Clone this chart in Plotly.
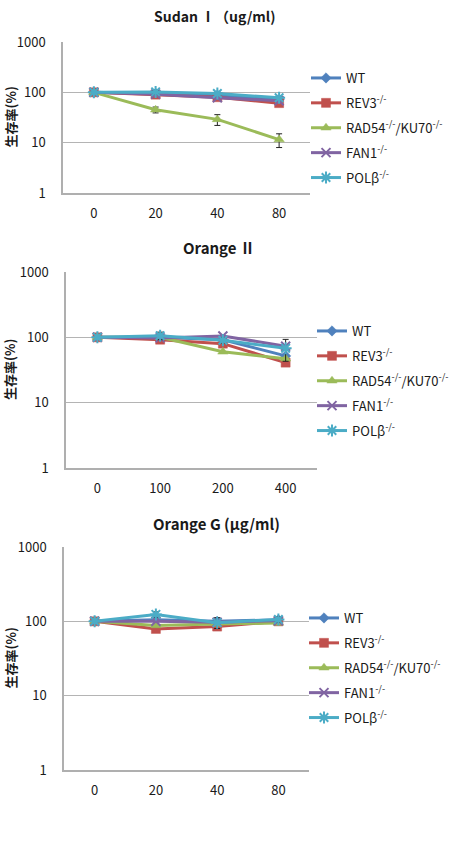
import plotly.graph_objects as go

# ---------------- data ----------------
series_names = ["WT", "REV3<sup>-/-</sup>", "RAD54<sup>-/-</sup>/KU70<sup>-/-</sup>",
                "FAN1<sup>-/-</sup>", "POLβ<sup>-/-</sup>"]

sudan_x = ["0", "20", "40", "80"]
sudan_wt = [100, 95, 88, 72]
sudan_rev3 = [100, 90, 80, 61]
sudan_rad54 = [100, 45, 29, 11.5]
sudan_fan1 = [100, 92, 78, 68]
sudan_polb = [100, 102, 95, 78]
sudan_err_rad54 = [0, 6, 7, 3.5]
sudan_err_polb = [0, 8, 7, 6]

orange2_x = ["0", "100", "200", "400"]
orange2_wt = [100, 100, 92, 52]
orange2_rev3 = [100, 92, 80, 41]
orange2_rad54 = [100, 100, 60, 47]
orange2_fan1 = [100, 98, 105, 73]
orange2_polb = [100, 106, 90, 68]
orange2_err_polb = [0, 14, 8, 25]

orangeg_x = ["0", "20", "40", "80"]
orangeg_wt = [100, 105, 100, 105]
orangeg_rev3 = [100, 79, 85, 100]
orangeg_rad54 = [100, 88, 92, 95]
orangeg_fan1 = [100, 100, 97, 102]
orangeg_polb = [100, 124, 96, 106]
orangeg_err_polb = [0, 10, 16, 8]

titles = ["<b>Sudan Ⅰ（ug/ml)</b>", "<b>Orange Ⅱ</b>", "<b>Orange G (μg/ml)</b>"]
y_title = "<b>生存率(%)</b>"
y_ticks = [1, 10, 100, 1000]

# ---------------- styles ----------------
colors = ["#4F81BD", "#C0504D", "#9BBB59", "#8064A2", "#4BACC6"]
symbols = ["diamond", "square", "triangle-up", "x-thin", "asterisk"]
msizes = [8, 9, 9, 9, 10]
FONT = "Noto Sans CJK JP, Noto Sans, sans-serif"
TXT = "#1a1a1a"
W, H = 456, 841

panels = [
    dict(x=sudan_x, ys=[sudan_wt, sudan_rev3, sudan_rad54, sudan_fan1, sudan_polb],
         errs={2: sudan_err_rad54, 4: sudan_err_polb},
         px=(63, 310), py=(42, 193), title_xy=(215, 16), title_size=14, legend_xy=(306, 63)),
    dict(x=orange2_x, ys=[orange2_wt, orange2_rev3, orange2_rad54, orange2_fan1, orange2_polb],
         errs={4: orange2_err_polb},
         px=(66, 317), py=(272, 468), title_xy=(219, 248), title_size=15, legend_xy=(312, 316)),
    dict(x=orangeg_x, ys=[orangeg_wt, orangeg_rev3, orangeg_rad54, orangeg_fan1, orangeg_polb],
         errs={4: orangeg_err_polb},
         px=(64, 309), py=(547, 770), title_xy=(216, 523), title_size=15, legend_xy=(304, 603)),
]

fig = go.Figure()
annotations = []
layout = {}
for p_i, p in enumerate(panels):
    k = "" if p_i == 0 else str(p_i + 1)
    leg = "legend" if p_i == 0 else f"legend{p_i + 1}"
    for s_i, name in enumerate(series_names):
        thin = symbols[s_i] in ("x-thin", "asterisk")
        err = p["errs"].get(s_i)
        fig.add_trace(go.Scatter(
            x=p["x"], y=p["ys"][s_i], name=name, mode="lines+markers",
            xaxis="x" + k, yaxis="y" + k, legend=leg, legendgroup=f"g{p_i}_{s_i}",
            line=dict(color=colors[s_i], width=3),
            marker=dict(symbol=symbols[s_i], size=msizes[s_i], color=colors[s_i],
                        line=dict(color=colors[s_i], width=2 if thin else 0.5)),
            error_y=dict(type="data", array=err, visible=err is not None,
                         color="#222222", thickness=1, width=3),
        ))
    x0, x1 = p["px"]
    y0, y1 = p["py"]
    layout["xaxis" + k] = dict(
        domain=[x0 / W, x1 / W], anchor="y" + k, type="category", range=[-0.5, 3.5],
        showline=True, linecolor="#AFAFAF", linewidth=1.5, showgrid=False,
        ticks="", ticklabelstandoff=8, tickfont=dict(family=FONT, size=13, color=TXT),
        automargin=False, fixedrange=True)
    layout["yaxis" + k] = dict(
        domain=[1 - y1 / H, 1 - y0 / H], anchor="x" + k, type="log", range=[0, 3],
        tickvals=y_ticks, ticktext=[str(v) for v in y_ticks],
        showline=True, linecolor="#AFAFAF", linewidth=1.5,
        showgrid=True, gridcolor="#B4B4B4", gridwidth=1.2, zeroline=False,
        ticks="", ticklabelstandoff=13, tickfont=dict(family=FONT, size=13, color=TXT),
        automargin=False, fixedrange=True)
    lx, ly = p["legend_xy"]
    layout[leg] = dict(x=lx / W, y=1 - ly / H, xanchor="left", yanchor="top",
                       font=dict(family=FONT, size=13, color=TXT),
                       traceorder="grouped", tracegroupgap=5,
                       bgcolor="rgba(0,0,0,0)", itemwidth=30)
    tx, ty = p["title_xy"]
    annotations.append(dict(text=titles[p_i], x=tx / W, y=1 - ty / H, xref="paper", yref="paper",
                            showarrow=False, xanchor="center", yanchor="middle",
                            font=dict(family=FONT, size=p["title_size"], color=TXT)))
    annotations.append(dict(text=y_title, x=10 / W, y=1 - ((y0 + y1) / 2) / H,
                            xref="paper", yref="paper", showarrow=False, textangle=-90,
                            xanchor="center", yanchor="middle",
                            font=dict(family=FONT, size=13, color=TXT)))

fig.update_layout(width=W, height=H,
                  margin=dict(l=0, r=0, t=0, b=0, pad=0, autoexpand=False),
                  paper_bgcolor="white", plot_bgcolor="white",
                  annotations=annotations, showlegend=True, **layout)
fig.write_html("out.html")
